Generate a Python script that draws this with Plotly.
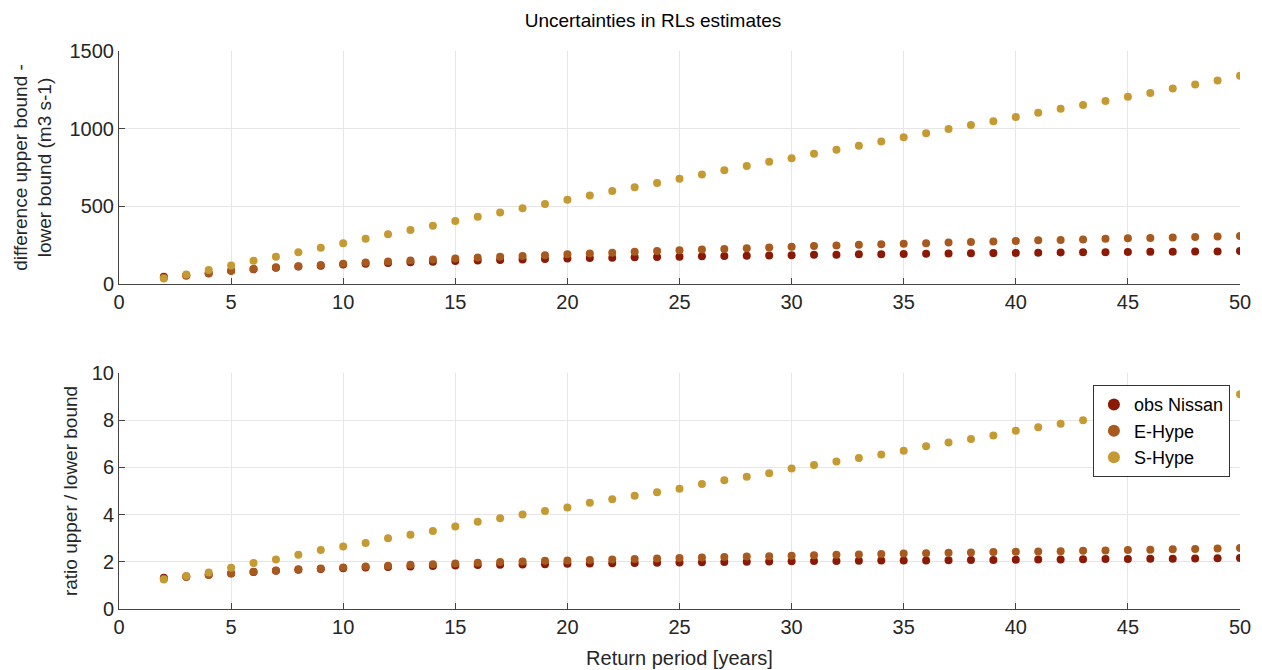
import plotly.graph_objects as go
from plotly.subplots import make_subplots

return_period = list(range(2, 51))

diff_obs = [47, 55, 70, 85, 95, 105, 112, 118, 125, 130, 135, 140, 144, 148, 152, 155, 158, 161, 164,
            167, 169, 172, 174, 176, 178, 180, 182, 184, 186, 188, 189, 191, 192, 194, 195, 196, 198,
            199, 200, 201, 203, 204, 205, 206, 207, 208, 209, 210, 212]
diff_ehype = [40, 55, 68, 85, 97, 108, 115, 122, 130, 138, 145, 152, 158, 164, 170, 176, 181, 186, 192,
              197, 202, 207, 212, 217, 222, 226, 231, 235, 240, 244, 248, 252, 256, 259, 263, 267, 270,
              274, 277, 281, 284, 287, 291, 294, 297, 300, 303, 306, 309]
diff_shype = [35, 62, 90, 120, 150, 175, 205, 233, 262, 292, 320, 348, 375, 405, 433, 460, 488, 515, 543,
              570, 598, 623, 650, 678, 705, 733, 760, 787, 810, 838, 865, 890, 918, 945, 970, 998, 1023,
              1048, 1075, 1102, 1128, 1153, 1178, 1205, 1230, 1258, 1285, 1310, 1340]

ratio_obs = [1.32, 1.38, 1.45, 1.5, 1.57, 1.62, 1.66, 1.7, 1.73, 1.76, 1.78, 1.8, 1.82, 1.84, 1.86, 1.87,
             1.89, 1.9, 1.92, 1.93, 1.94, 1.95, 1.96, 1.97, 1.98, 1.99, 2.0, 2.01, 2.02, 2.03, 2.03, 2.04,
             2.05, 2.06, 2.06, 2.07, 2.08, 2.08, 2.09, 2.1, 2.1, 2.11, 2.12, 2.12, 2.13, 2.13, 2.14, 2.15, 2.16]
ratio_ehype = [1.28, 1.36, 1.44, 1.52, 1.58, 1.63, 1.68, 1.72, 1.76, 1.8, 1.83, 1.87, 1.9, 1.93, 1.96, 1.99,
               2.01, 2.04, 2.06, 2.08, 2.1, 2.12, 2.14, 2.16, 2.18, 2.2, 2.22, 2.24, 2.26, 2.28, 2.3, 2.31,
               2.33, 2.35, 2.36, 2.38, 2.39, 2.41, 2.43, 2.44, 2.45, 2.47, 2.48, 2.5, 2.51, 2.53, 2.54, 2.56, 2.58]
ratio_shype = [1.25, 1.4, 1.55, 1.75, 1.95, 2.1, 2.3, 2.5, 2.65, 2.8, 3.0, 3.15, 3.3, 3.5, 3.7, 3.85, 4.0,
               4.15, 4.3, 4.5, 4.65, 4.8, 4.95, 5.1, 5.3, 5.45, 5.6, 5.75, 5.95, 6.1, 6.25, 6.4, 6.55, 6.7,
               6.9, 7.05, 7.2, 7.35, 7.55, 7.7, 7.85, 8.0, 8.15, 8.3, 8.45, 8.6, 8.8, 8.95, 9.1]

series_names = ["obs Nissan", "E-Hype", "S-Hype"]
colors = ["#8a1a06", "#a85a1e", "#c69a32"]

FONT = "Liberation Sans, Arial, Helvetica, sans-serif"
TXT = "#262626"

fig = make_subplots(rows=2, cols=1, vertical_spacing=0.16)

for name, col, d in zip(series_names, colors, [diff_obs, diff_ehype, diff_shype]):
    fig.add_trace(go.Scatter(x=return_period, y=d, mode="markers", name=name,
                             marker=dict(color=col, size=8, line=dict(width=0)),
                             showlegend=False), row=1, col=1)
for name, col, d in zip(series_names, colors, [ratio_obs, ratio_ehype, ratio_shype]):
    fig.add_trace(go.Scatter(x=return_period, y=d, mode="markers", name=name,
                             marker=dict(color=col, size=8, line=dict(width=0)),
                             showlegend=True), row=2, col=1)

axis_common = dict(showline=True, linecolor="#444444", linewidth=1, ticks="inside", ticklen=6,
                   tickcolor="#444444", showgrid=True, gridcolor="#e6e6e6", gridwidth=1,
                   zeroline=False, tickfont=dict(size=20, color=TXT, family=FONT), mirror=False)

fig.update_xaxes(range=[0, 50], dtick=5, tick0=0, **axis_common)
fig.update_yaxes(**axis_common)
fig.update_yaxes(range=[0, 1500], dtick=500, domain=[0.5824, 1.0], row=1, col=1,
                 title=dict(text="difference upper bound -<br>lower bound (m3 s-1)",
                            font=dict(size=19, color=TXT, family=FONT), standoff=12))
fig.update_yaxes(range=[0, 10], dtick=2, domain=[0.0, 0.423], row=2, col=1,
                 title=dict(text="ratio upper / lower bound",
                            font=dict(size=19, color=TXT, family=FONT), standoff=9))
fig.update_xaxes(row=2, col=1, title=dict(text="Return period [years]",
                                          font=dict(size=20, color=TXT, family=FONT), standoff=13))

fig.update_layout(
    width=1262, height=670,
    margin=dict(l=111, r=30, t=43, b=69, autoexpand=False),
    paper_bgcolor="white", plot_bgcolor="white",
    title=dict(text="Uncertainties in RLs estimates", xref="container", x=645 / 1262, xanchor="center",
               y=1 - 12 / 670, yanchor="middle",
               font=dict(size=19, color="#000000", family=FONT)),
    legend=dict(x=0.991, xanchor="right", y=0.401, yanchor="top", bgcolor="white",
                bordercolor="#333333", borderwidth=1, font=dict(size=18, color="#000000", family=FONT),
                itemsizing="constant", tracegroupgap=0),
    font=dict(family=FONT),
)

fig.write_html("out.html")
